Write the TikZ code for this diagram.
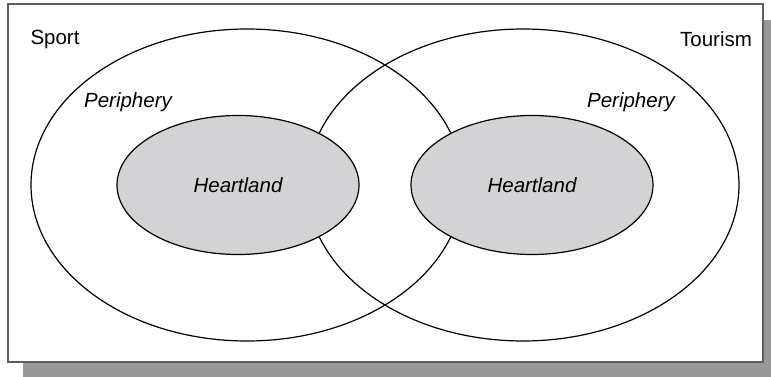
\documentclass[tikz,border=0pt]{standalone}
\usepackage{fontspec}
\setmainfont{Liberation Sans}
\usetikzlibrary{shapes.geometric}
\definecolor{coregray}{RGB}{211,211,213}
\definecolor{shadowgray}{RGB}{153,153,153}
\definecolor{framegray}{RGB}{95,95,95}
\begin{document}
\begin{tikzpicture}[x=1pt,y=-1pt,
  ring/.style={draw=black, line width=1.2pt, ellipse, inner sep=0pt,
    minimum width=432pt, minimum height=312pt},
  core/.style={draw=black, line width=1.2pt, ellipse, inner sep=0pt,
    fill=coregray, minimum width=242pt, minimum height=139pt,
    font=\fontsize{20.5}{24}\selectfont\itshape},
  lbl/.style={inner sep=0pt, font=\fontsize{20.5}{24}\selectfont},
  ilbl/.style={lbl, font=\fontsize{20.5}{24}\selectfont\itshape}]
  \useasboundingbox (0,0) rectangle (771,377);
  % drop shadow and frame
  \fill[shadowgray] (23,20) rectangle (771,377);
  \draw[framegray, line width=1.3pt, fill=white] (8,4) rectangle (763,362);
  % outer rings
  \node[ring] (sportring) at (247,185) {};
  \node[ring] (tourring) at (523,185) {};
  % heartlands
  \node[core] (sportcore) at (238,185) {Heartland};
  \node[core] (tourcore) at (532,185) {Heartland};
  % labels
  \node[lbl] (sport) at (55,39) {Sport};
  \node[lbl] (tourism) at (716,39) {Tourism};
  \node[ilbl] (sportper) at (128,102) {Periphery};
  \node[ilbl] (tourper) at (631,102) {Periphery};
\end{tikzpicture}
\end{document}
